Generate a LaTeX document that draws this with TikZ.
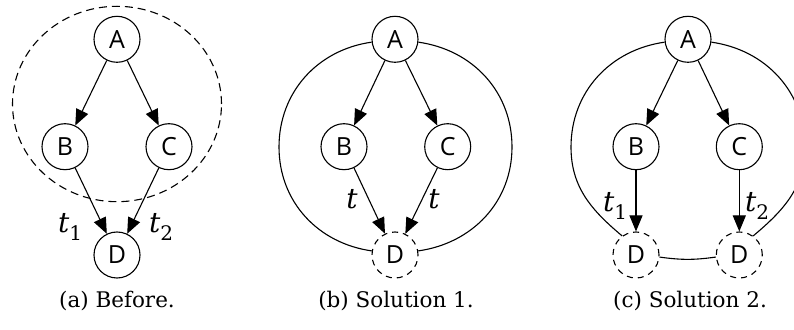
\documentclass[tikz,border=0pt]{standalone}
\usepackage{fontspec}
\usetikzlibrary{arrows.meta}
\newfontfamily\nodefam{Open Sans}
\newfontfamily\capfam{DejaVu Serif}
\newcommand\nodefnt{\nodefam\fontsize{25}{29}\selectfont}
\newcommand\capfnt{\capfam\fontsize{21.5}{26}\selectfont}
\newcommand\labfnt{\capfam\fontsize{28}{32}\selectfont}
\newcommand\tsub[1]{{\itshape t}\raisebox{-0.28em}{\fontsize{20}{24}\selectfont #1}}
\tikzset{
  vtx/.style={circle, draw, line width=1.1pt, minimum size=46pt, inner sep=0pt, font=\nodefnt},
  gvtx/.style={vtx, dash pattern=on 6pt off 5pt},
  arr/.style={line width=1.1pt, -{Triangle[length=16pt,width=13pt]}},
  lnk/.style={line width=1.1pt},
  lab/.style={font=\labfnt, inner sep=0pt},
  captxt/.style={font=\capfnt, inner sep=0pt},
}
\begin{document}
\begin{tikzpicture}[x=1pt,y=1pt]
\useasboundingbox (0,0) rectangle (794,329);
\clip (0,0) rectangle (794,329);
% (a)
\node[vtx] (aA) at (117,289.7) {A};
\node[vtx] (aB) at (65,182.3) {B};
\node[vtx] (aC) at (169,182.3) {C};
\node[vtx] (aD) at (117,74) {D};
\draw[lnk, dash pattern=on 8pt off 5pt] (117,225) ellipse [x radius=104.5, y radius=97.7];
\draw[arr] (aA) -- (aB);
\draw[arr] (aA) -- (aC);
\draw[arr] (aB) -- (aD);
\draw[arr] (aC) -- (aD);
\node[lab] (at1) at (70,102) {\tsub{1}};
\node[lab] (at2) at (161,102) {\tsub{2}};
\node[captxt] (acap) at (117,28) {(a) Before.};
% (b)
\node[vtx] (bA) at (395,289.7) {A};
\node[vtx] (bB) at (344,182.3) {B};
\node[vtx] (bC) at (447.7,182.3) {C};
\node[gvtx] (bD) at (395,74) {D};
\draw[arr] (bA) -- (bB);
\draw[arr] (bA) -- (bC);
\draw[arr] (bB) -- (bD);
\draw[arr] (bC) -- (bD);
\coordinate (bL) at (279,182);
\coordinate (bR) at (512,182);
\draw[lnk] (bA.187) to[out=188,in=90] (bL) to[out=-90,in=172] (bD.170);
\draw[lnk] (bA.-7) to[out=-8,in=90] (bR) to[out=-90,in=8] (bD.10);
\node[lab] (bt1) at (352,130) {\itshape t};
\node[lab] (bt2) at (434,130) {\itshape t};
\node[captxt] (bcap) at (396,28) {(b) Solution 1.};
% (c)
\node[vtx] (cA) at (688,289.7) {A};
\node[vtx] (cB) at (636,182.3) {B};
\node[vtx] (cC) at (739.3,182.3) {C};
\node[gvtx] (cD1) at (636,74) {D};
\node[gvtx] (cD2) at (739.3,74) {D};
\draw[arr] (cA) -- (cB);
\draw[arr] (cA) -- (cC);
\draw[arr] (cB) -- (cD1);
\draw[arr] (cC) -- (cD2);
\coordinate (cL) at (571,182);
\coordinate (cR) at (805,182);
\draw[lnk] (cA.187) to[out=188,in=90] (cL) to[out=-90,in=140] (cD1.126);
\draw[lnk] (cA.-7) to[out=-8,in=90] (cR) to[out=-90,in=40] (cD2.54);
\draw[lnk] (cD1.-5) to[bend right=8] (cD2.185);
\node[lab] (ct1) at (615,123) {\tsub{1}};
\node[lab] (ct2) at (757,123) {\tsub{2}};
\node[captxt] (ccap) at (690,28) {(c) Solution 2.};
\end{tikzpicture}
\end{document}
